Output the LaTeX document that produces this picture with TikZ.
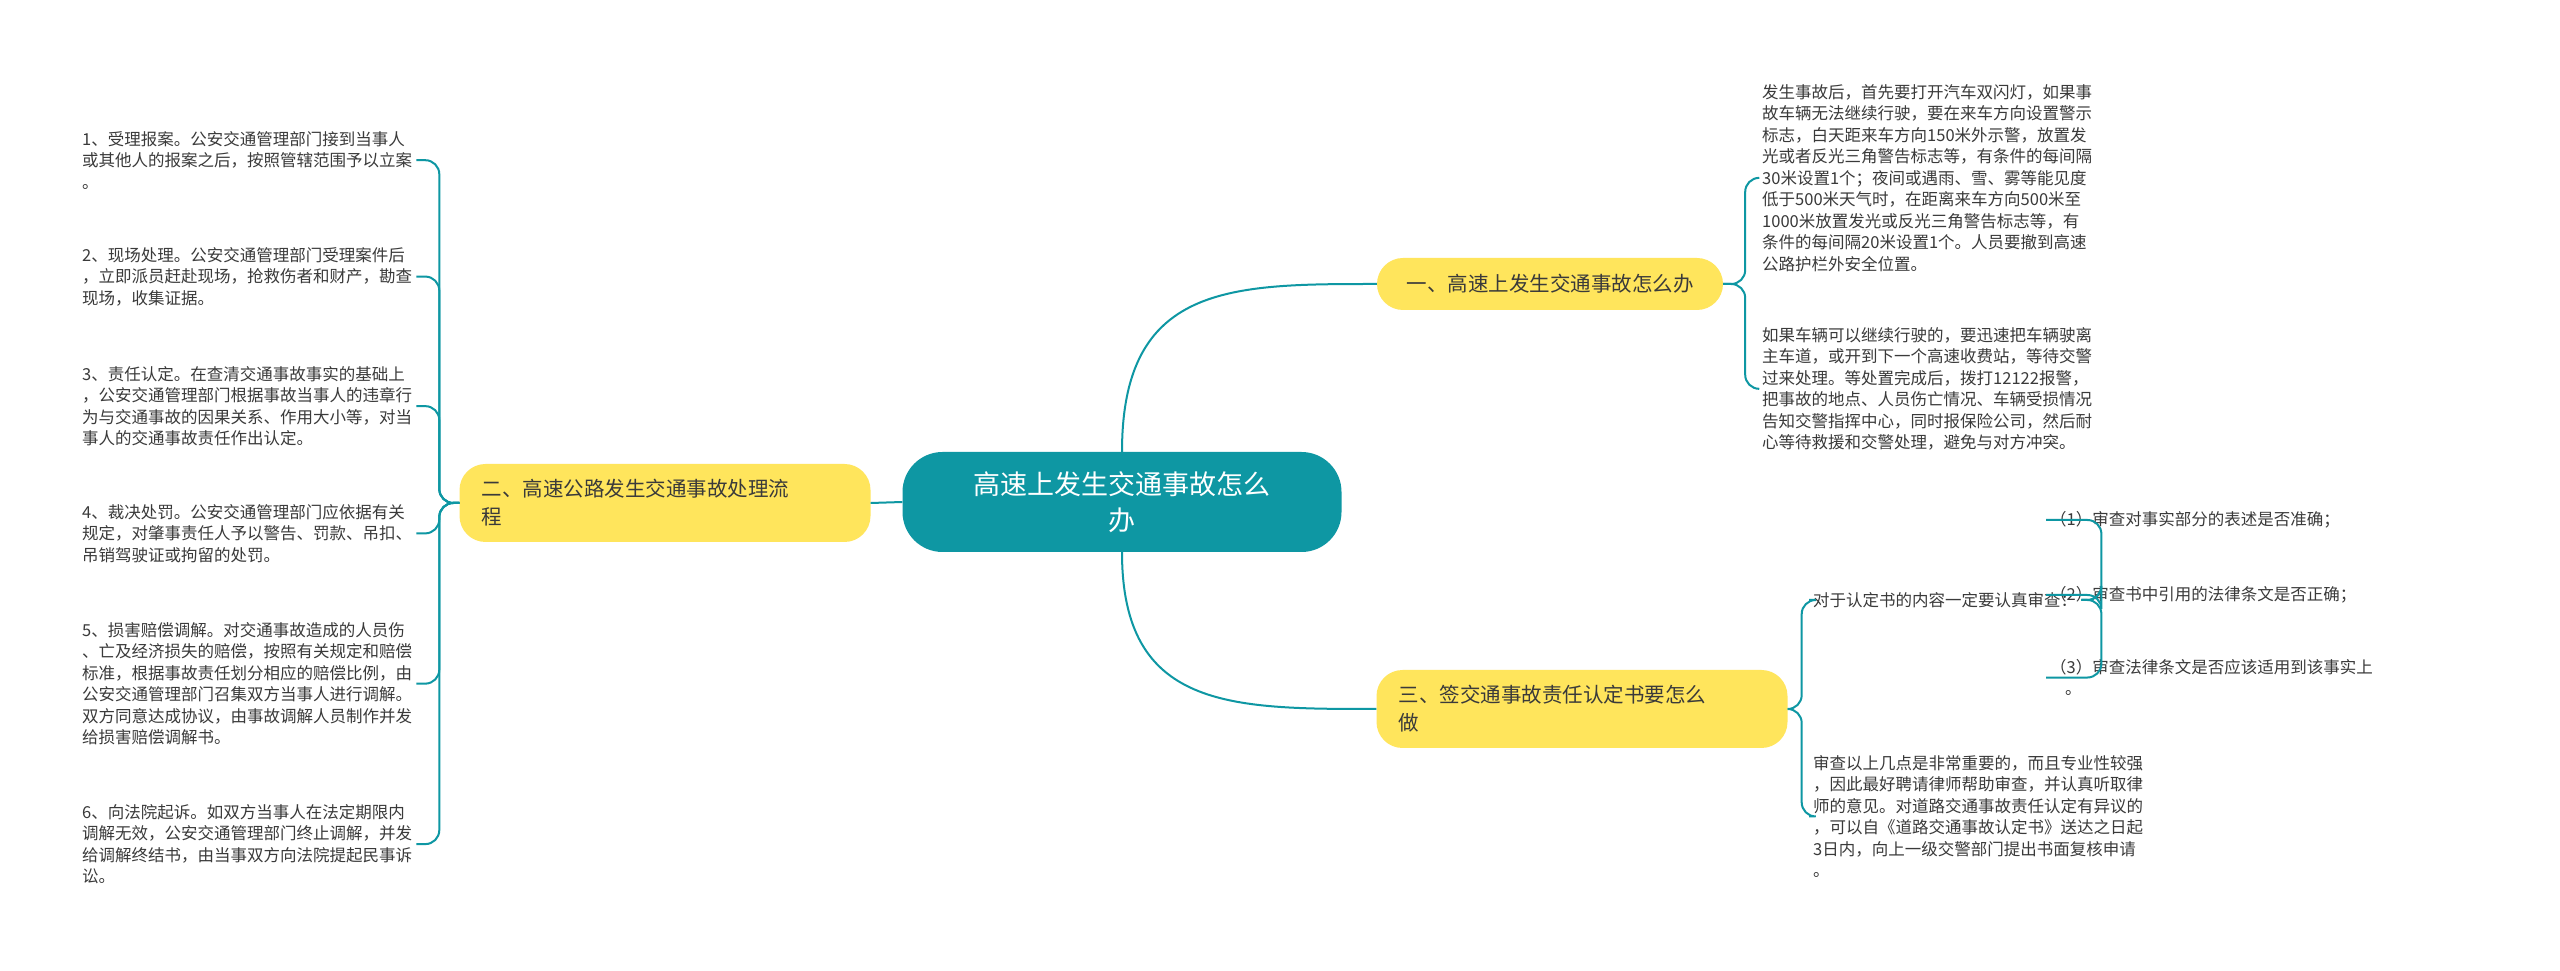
\documentclass[tikz,border=0pt]{standalone}
\usepackage{fontspec}
\setmainfont{Noto Sans CJK SC}
\usetikzlibrary{positioning}
\definecolor{teal1}{HTML}{0E97A3}
\definecolor{yell1}{HTML}{FFE55C}
\definecolor{ink}{HTML}{3A3A3A}
\tikzset{
  rootbox/.style={fill=teal1, rounded corners=40pt, minimum width=439pt, minimum height=100pt,
    text=white, align=center, font=\fontsize{27}{36}\selectfont},
  branchbox/.style={fill=yell1, rounded corners=26pt, text=ink, align=left,
    inner xsep=22pt, font=\fontsize{20.5}{28}\selectfont},
  leaf/.style={text=ink, align=left, inner sep=4pt, font=\fontsize{16.5}{21.5}\selectfont},
  link/.style={draw=teal1, line width=2pt, rounded corners=14pt}
}
\begin{document}
\begin{tikzpicture}[x=1pt, y=1pt]
    \useasboundingbox[fill=white] (0,0) rectangle (2560,970);
    % Main nodes
    \node[rootbox] (root) at (1122,468) {高速上发生交通事故怎么\\办};
    \node[branchbox, minimum width=346pt, minimum height=52pt] (b1) at (1550,686) {一、高速上发生交通事故怎么办};
    \node[branchbox, minimum width=411pt, minimum height=78pt, text width=367pt] (b2) at (665,467) {二、高速公路发生交通事故处理流\\程};
    \node[branchbox, minimum width=411pt, minimum height=78pt, text width=367pt] (b3) at (1582,261) {三、签交通事故责任认定书要怎么\\做};

    % Leaves of the first branch
    \node[leaf, anchor=north west] (t1) at (1758,890) {发生事故后，首先要打开汽车双闪灯，如果事\\故车辆无法继续行驶，要在来车方向设置警示\\标志，白天距来车方向150米外示警，放置发\\光或者反光三角警告标志等，有条件的每间隔\\30米设置1个；夜间或遇雨、雪、雾等能见度\\低于500米天气时，在距离来车方向500米至\\1000米放置发光或反光三角警告标志等，有\\条件的每间隔20米设置1个。人员要撤到高速\\公路护栏外安全位置。};
    \node[leaf, anchor=north west] (t2) at (1758,647) {如果车辆可以继续行驶的，要迅速把车辆驶离\\主车道，或开到下一个高速收费站，等待交警\\过来处理。等处置完成后，拨打12122报警，\\把事故的地点、人员伤亡情况、车辆受损情况\\告知交警指挥中心，同时报保险公司，然后耐\\心等待救援和交警处理，避免与对方冲突。};

    % Leaves of the second branch
    \node[leaf, anchor=north west] (i1) at (78,843) {1、受理报案。公安交通管理部门接到当事人\\或其他人的报案之后，按照管辖范围予以立案\\。};
    \node[leaf, anchor=north west] (i2) at (78,727) {2、现场处理。公安交通管理部门受理案件后\\，立即派员赶赴现场，抢救伤者和财产，勘查\\现场，收集证据。};
    \node[leaf, anchor=north west] (i3) at (78,608) {3、责任认定。在查清交通事故事实的基础上\\，公安交通管理部门根据事故当事人的违章行\\为与交通事故的因果关系、作用大小等，对当\\事人的交通事故责任作出认定。};
    \node[leaf, anchor=north west] (i4) at (78,470) {4、裁决处罚。公安交通管理部门应依据有关\\规定，对肇事责任人予以警告、罚款、吊扣、\\吊销驾驶证或拘留的处罚。};
    \node[leaf, anchor=north west] (i5) at (78,352) {5、损害赔偿调解。对交通事故造成的人员伤\\、亡及经济损失的赔偿，按照有关规定和赔偿\\标准，根据事故责任划分相应的赔偿比例，由\\公安交通管理部门召集双方当事人进行调解。\\双方同意达成协议，由事故调解人员制作并发\\给损害赔偿调解书。};
    \node[leaf, anchor=north west] (i6) at (78,170) {6、向法院起诉。如双方当事人在法定期限内\\调解无效，公安交通管理部门终止调解，并发\\给调解终结书，由当事双方向法院提起民事诉\\讼。};

    % Leaves of the third branch
    \node[leaf, anchor=west] (c1) at (1809,370) {对于认定书的内容一定要认真审查：};
    \node[leaf, anchor=north west] (c2) at (1809,219) {审查以上几点是非常重要的，而且专业性较强\\，因此最好聘请律师帮助审查，并认真听取律\\师的意见。对道路交通事故责任认定有异议的\\，可以自《道路交通事故认定书》送达之日起\\3日内，向上一级交警部门提出书面复核申请\\。};
    \node[leaf, anchor=west] (s1) at (2046,450) {（1）审查对事实部分的表述是否准确；};
    \node[leaf, anchor=west] (s2) at (2046,375) {（2）审查书中引用的法律条文是否正确；};
    \node[leaf, anchor=north west] (s3) at (2046,315) {（3）审查法律条文是否应该适用到该事实上\\\hspace*{0.9em}。};

    % Connectors
    \draw[link, rounded corners=0pt] (root.north) .. controls (1122,686) and (1230,686) .. (b1.west);
    \draw[link, rounded corners=0pt] (root.south) .. controls (1122,261) and (1230,261) .. (b3.west);
    \draw[link] (root.west) -- (b2.east);
    \foreach \n in {t1,t2} \draw[link] (b1.east) -- ++(22,0) |- (\n.west);
    \foreach \n in {i1,i2,i3,i4,i5,i6} \draw[link] (b2.west) -- ++(-20,0) |- (\n.east);
    \foreach \n in {c1,c2} \draw[link] (b3.east) -- ++(14,0) |- (\n.west);
    \foreach \n in {s1,s2,s3} \draw[link] (c1.east) -- ++(20,0) |- (\n.west);
\end{tikzpicture}
\end{document}
